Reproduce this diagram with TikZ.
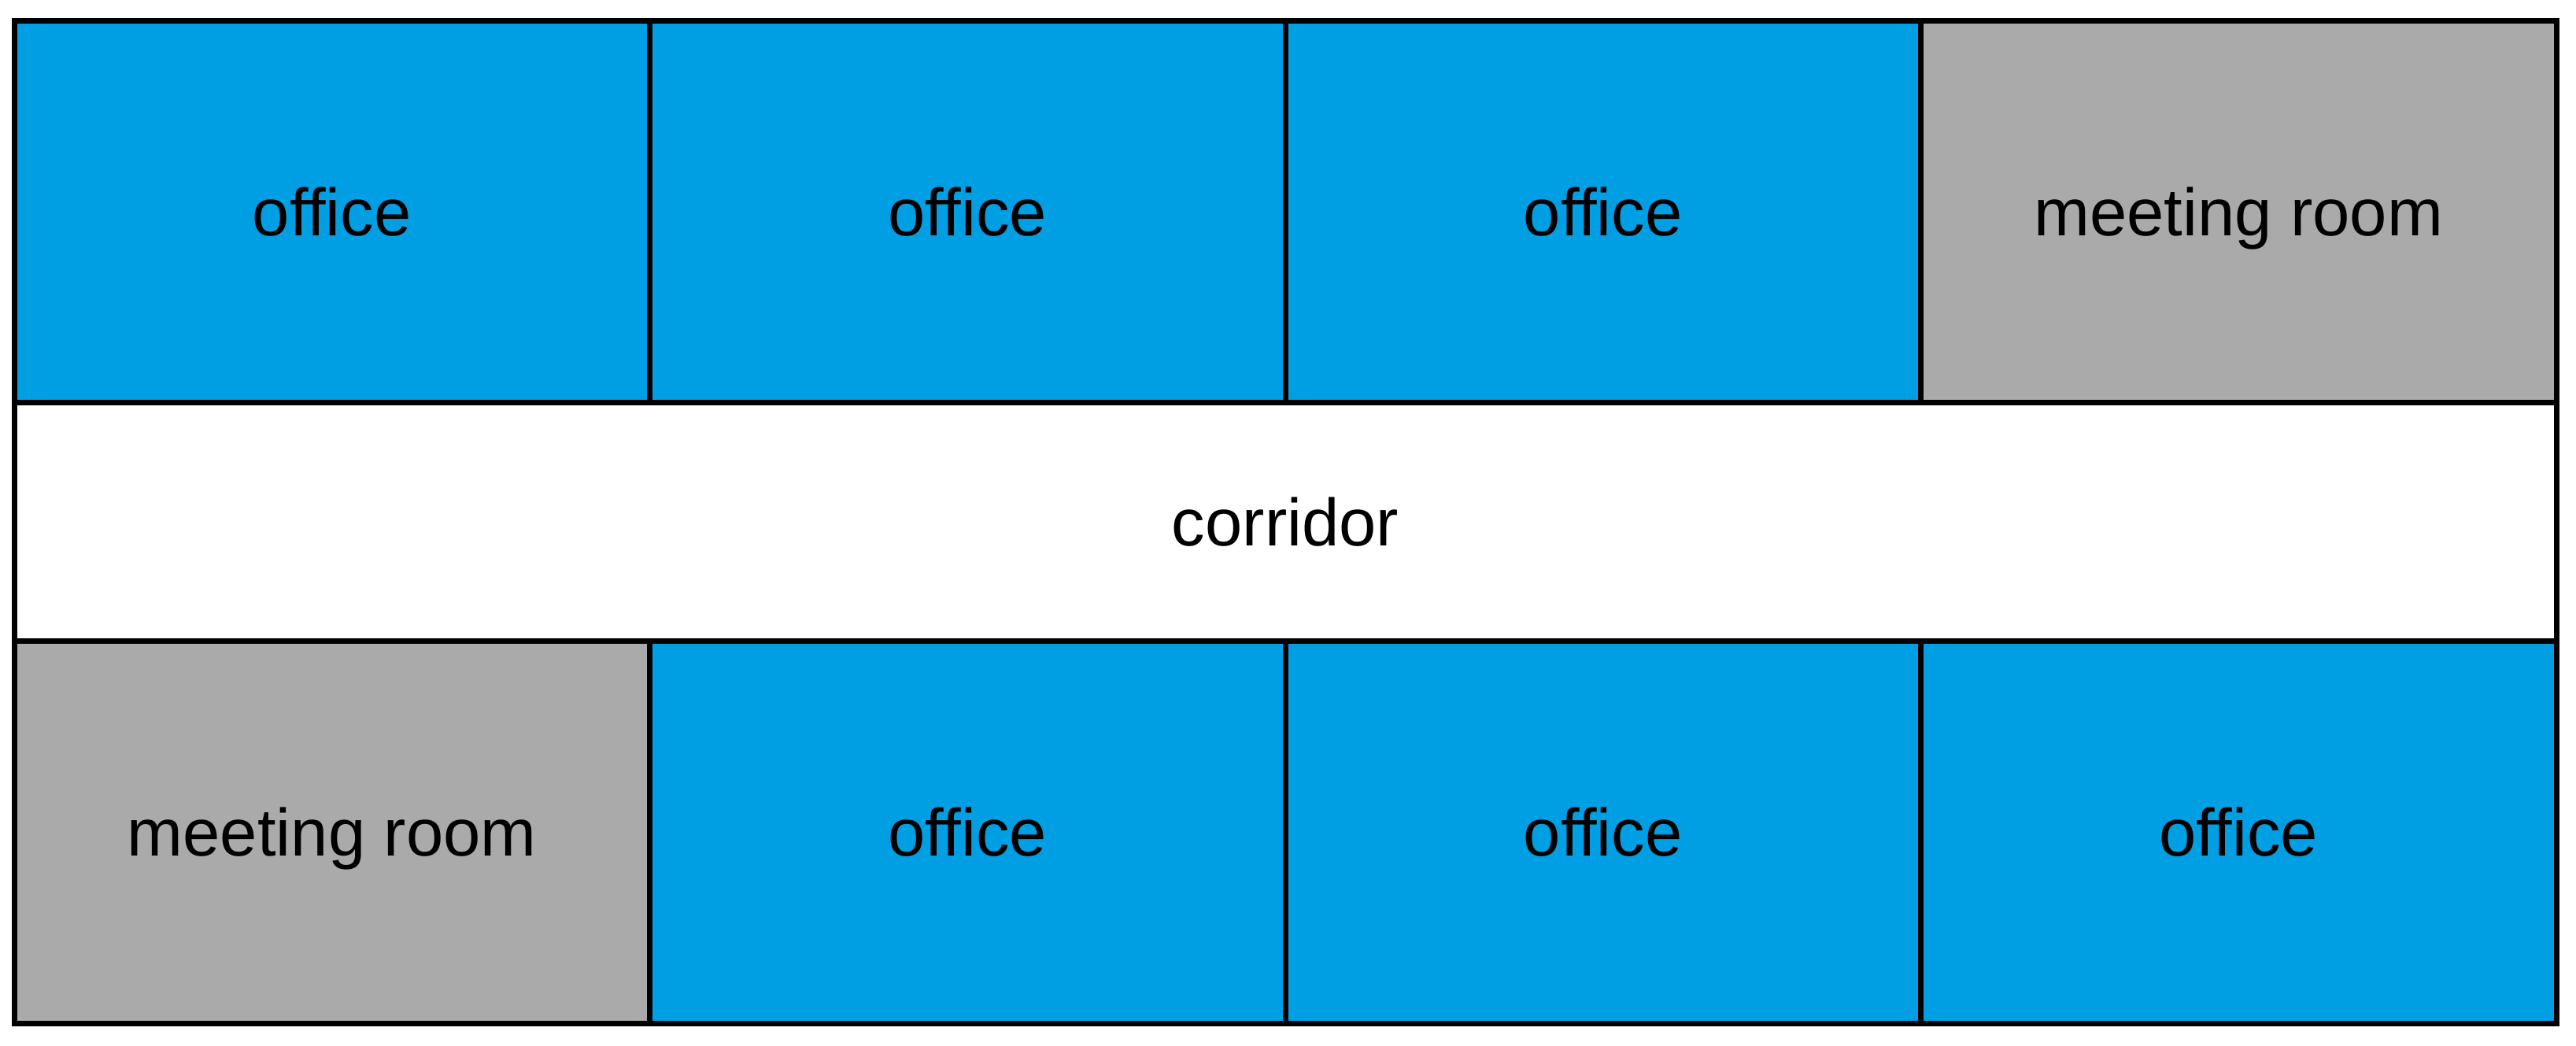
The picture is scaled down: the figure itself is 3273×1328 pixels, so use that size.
\documentclass[tikz,border=0pt]{standalone}
\usepackage{fontspec}
\setmainfont{Liberation Sans}
\definecolor{officeblue}{RGB}{0,159,227}
\definecolor{meetgrey}{RGB}{170,170,170}
\begin{document}
\begin{tikzpicture}[x=1pt,y=-1pt,
  room/.style={draw=black,line width=7pt,inner sep=0pt,outer sep=0pt,
    minimum width=807.5pt,font=\fontsize{85}{100}\selectfont,text=black,
    text height=61pt,text depth=0pt},
  office/.style={room,fill=officeblue},
  meeting/.style={room,fill=meetgrey},
  hall/.style={room,fill=white,minimum width=3230pt,minimum height=303pt}]
\useasboundingbox (0,0) rectangle (3273,1328);
\fill[white] (0,0) rectangle (3273,1328);
\node[office,minimum height=485pt] (o1) at (421.75,268.5) {office};
\node[office,minimum height=485pt] (o2) at (1229.25,268.5) {office};
\node[office,minimum height=485pt] (o3) at (2036.75,268.5) {office};
\node[meeting,minimum height=485pt] (m1) at (2844.25,268.5) {meeting room};
\node[hall] (c) at (1633,662.5) {corridor};
\node[meeting,minimum height=486pt] (m2) at (421.75,1057) {meeting room};
\node[office,minimum height=486pt] (o4) at (1229.25,1057) {office};
\node[office,minimum height=486pt] (o5) at (2036.75,1057) {office};
\node[office,minimum height=486pt] (o6) at (2844.25,1057) {office};
\end{tikzpicture}
\end{document}
